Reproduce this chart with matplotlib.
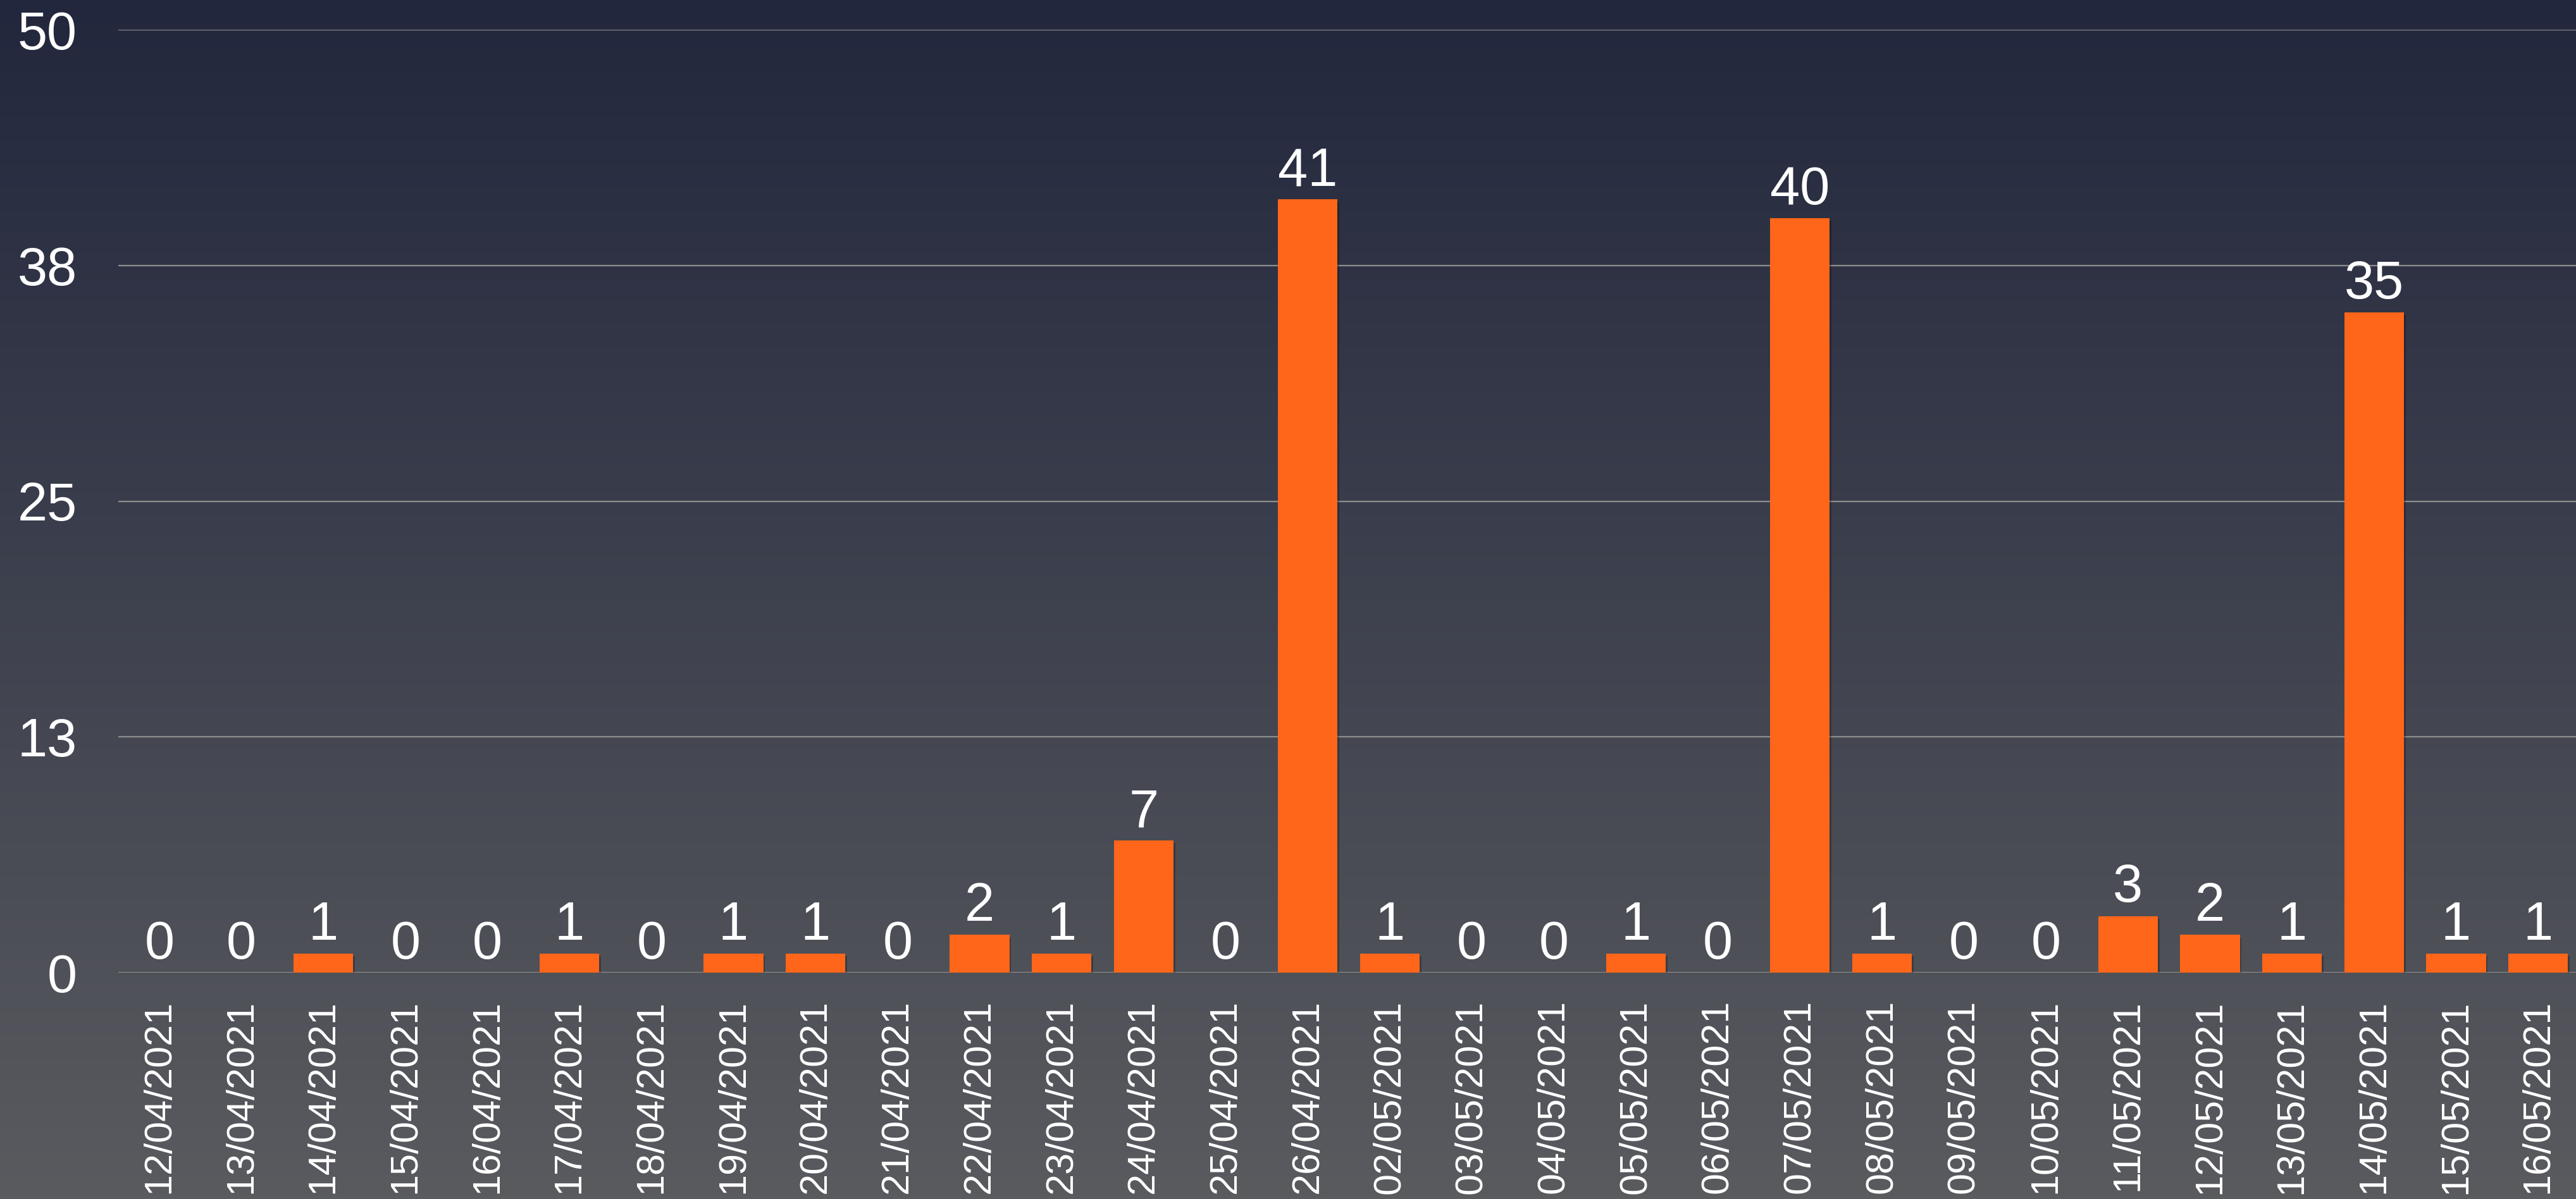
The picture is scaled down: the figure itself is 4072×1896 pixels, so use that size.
import matplotlib
matplotlib.use("Agg")
import matplotlib.pyplot as plt
import matplotlib.patheffects as pe
import numpy as np

plt.rcParams['font.family'] = ['Liberation Sans', 'DejaVu Sans']

dates = ["12/04/2021", "13/04/2021", "14/04/2021", "15/04/2021", "16/04/2021",
         "17/04/2021", "18/04/2021", "19/04/2021", "20/04/2021", "21/04/2021",
         "22/04/2021", "23/04/2021", "24/04/2021", "25/04/2021", "26/04/2021",
         "02/05/2021", "03/05/2021", "04/05/2021", "05/05/2021", "06/05/2021",
         "07/05/2021", "08/05/2021", "09/05/2021", "10/05/2021", "11/05/2021",
         "12/05/2021", "13/05/2021", "14/05/2021", "15/05/2021", "16/05/2021"]
counts = [0, 0, 1, 0, 0, 1, 0, 1, 1, 0, 2, 1, 7, 0, 41,
          1, 0, 0, 1, 0, 40, 1, 0, 0, 3, 2, 1, 35, 1, 1]
y_ticks = [0, 12.5, 25, 37.5, 50]
y_tick_labels = ["0", "13", "25", "38", "50"]

W, H = 4072, 1896
DPI = 100
fig = plt.figure(figsize=(W / DPI, H / DPI), dpi=DPI)

# background gradient
bg = fig.add_axes([0, 0, 1, 1], zorder=-10)
top = np.array([34, 39, 61]) / 255.0
bot = np.array([90, 91, 95]) / 255.0
t = np.linspace(0, 1, 256)[:, None]
grad = top[None, :] * (1 - t) + bot[None, :] * t
bg.imshow(grad[:, None, :], aspect='auto', extent=[0, 1, 0, 1], origin='upper')
bg.set_axis_off()

left = 187 / W
right = 4077 / W
bottom = (H - 1538) / H
topy = (H - 47) / H
ax = fig.add_axes([left, bottom, right - left, topy - bottom])
ax.patch.set_alpha(0)

x = np.arange(len(dates))
bars = ax.bar(x, counts, width=0.725, color='#FF661A', zorder=3)
for b in bars:
    b.set_path_effects([pe.SimplePatchShadow(offset=(2, -3), shadow_rgbFace='black', alpha=0.25),
                        pe.Normal()])

for xi, v in zip(x, counts):
    ax.annotate(str(v), (xi, v), xytext=(0, 16), textcoords='offset points',
                ha='center', va='baseline', color='white', fontsize=61, zorder=4)

ax.set_xlim(-0.5, len(dates) - 0.5)
ax.set_ylim(0, 50)
ax.set_yticks(y_ticks)
ax.set_yticklabels(y_tick_labels)
ax.set_xticks(x)
ax.set_xticklabels(dates, rotation=90)
ax.tick_params(axis='y', length=0, pad=47, labelsize=61, labelcolor='white')
ax.tick_params(axis='x', length=0, pad=31, labelsize=44, labelcolor='white')
ax.grid(axis='y', color='#8e8e8e', linewidth=1.6)
ax.grid(axis='x', visible=False)
ax.set_axisbelow(True)
for s in ax.spines.values():
    s.set_visible(False)

fig.savefig("out.png", dpi=DPI)
